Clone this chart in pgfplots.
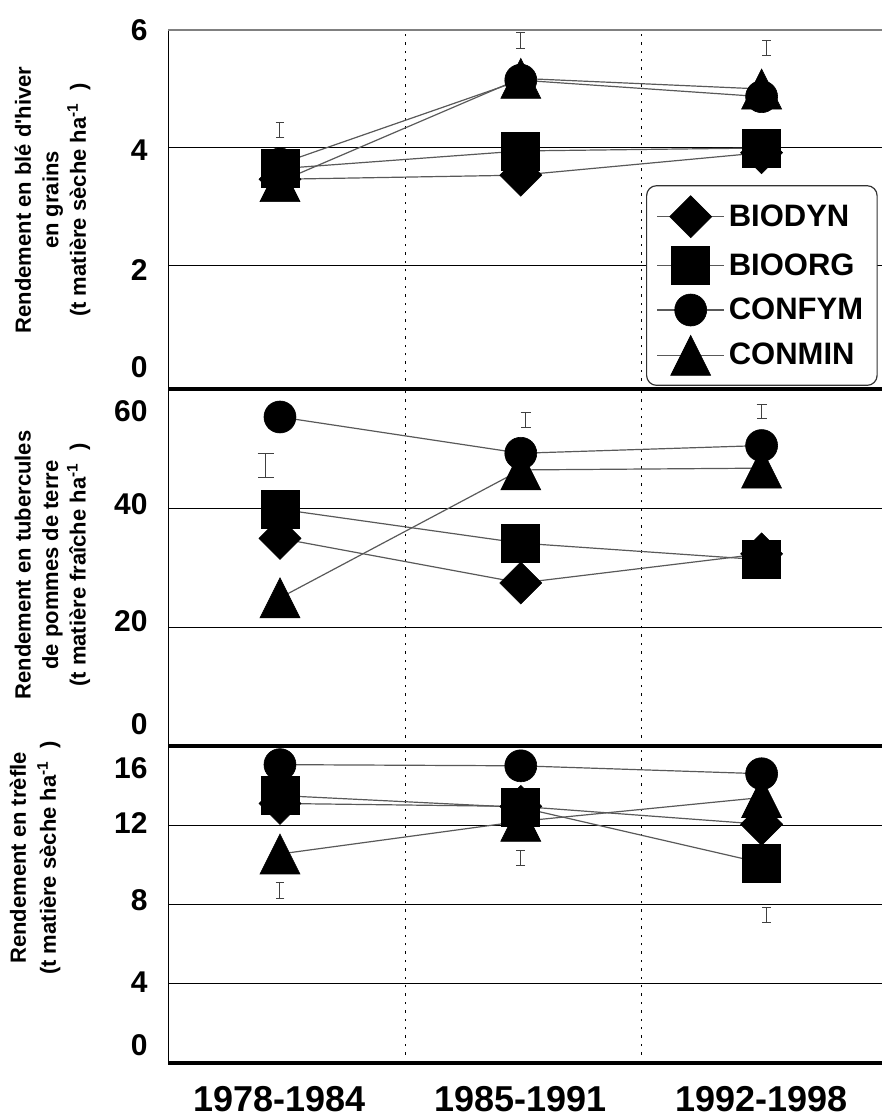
\documentclass[border=0pt]{standalone}
\usepackage{fontspec}
\setmainfont{Liberation Sans}
\usepackage{pgfplots}
\pgfplotsset{compat=1.18}

\pgfdeclareplotmark{mydiamond}{%
  \pgfpathmoveto{\pgfqpoint{0pt}{\pgfplotmarksize}}%
  \pgfpathlineto{\pgfqpoint{\pgfplotmarksize}{0pt}}%
  \pgfpathlineto{\pgfqpoint{0pt}{-\pgfplotmarksize}}%
  \pgfpathlineto{\pgfqpoint{-\pgfplotmarksize}{0pt}}%
  \pgfpathclose\pgfusepathqfillstroke}
\pgfdeclareplotmark{mytri}{%
  \pgfpathmoveto{\pgfqpoint{0pt}{\pgfplotmarksize}}%
  \pgfpathlineto{\pgfqpoint{\pgfplotmarksize}{-\pgfplotmarksize}}%
  \pgfpathlineto{\pgfqpoint{-\pgfplotmarksize}{-\pgfplotmarksize}}%
  \pgfpathclose\pgfusepathqfillstroke}

\pgfplotsset{
  ser/.style={black!65, line width=0.6pt, sharp corners, mark options={solid, fill=black, draw=black, line width=0.3pt, sharp corners}},
  sdyn/.style={ser, mark=mydiamond, mark size=10.5pt},
  sorg/.style={ser, mark=square*, mark size=9.5pt},
  sfym/.style={ser, mark=*, mark size=8pt},
  smin/.style={ser, mark=mytri, mark size=10pt},
  ebar/.style={forget plot, draw=none, mark=none,
    error bars/.cd, y dir=both, y explicit,
    error bar style={draw=black!75, line width=0.5pt},
    error mark options={rotate=90, draw=black!75, line width=0.5pt, mark size=#1}},
  panel/.style={
    width=357pt, scale only axis, xmin=-0.465, xmax=2.5, clip=false,
    axis x line*=bottom, axis y line*=left,
    x axis line style={line width=2pt, -},
    y axis line style={line width=0.5pt, -},
    tick style={draw=none}, major tick length=0pt,
    xtick={0,1,2}, xticklabels={},
    extra x ticks={0.52,1.5}, extra x tick labels={},
    extra x tick style={grid=major, major grid style={black, line width=0.5pt, dash pattern=on 1.2pt off 3pt}},
    extra y tick style={grid=major, major grid style={black, line width=0.5pt}},
    extra y tick labels={},
    yticklabel style={font=\fontsize{15}{15}\selectfont\bfseries, inner sep=0pt, anchor=east, xshift=-10pt},
    xticklabel style={font=\fontsize{18}{18}\selectfont\bfseries, inner sep=0pt, anchor=north, yshift=-11.5pt},
  },
}

\begin{document}
\begin{tikzpicture}
\path[use as bounding box] (0,0) rectangle (441pt,-559pt);

% ---- Top panel: wheat
\begin{axis}[panel, at={(84pt,-194.5pt)}, anchor=south west, height=179.5pt,
  ymin=-0.085, ymax=6,
  ytick={0.29,1.93,3.97,6}, yticklabels={0,2,4,6},
  extra y ticks={2,4},
  legend style={at={(0.994,0.568)}, anchor=north east, draw=black!80, line width=0.6pt,
    rounded corners=5pt, fill=white, font=\fontsize{15.5}{15.5}\selectfont\bfseries,
    row sep=4.5pt, inner xsep=5pt, inner ysep=5pt, nodes={inner xsep=2pt}},
  legend cell align=left,
  legend image code/.code={\draw[mark repeat=2, mark phase=2, #1] plot coordinates {(0pt,0pt) (16.75pt,0pt) (33.5pt,0pt)};},
]
\draw[black!50, line width=0.6pt] (rel axis cs:0,1) -- (rel axis cs:1,1);
\addplot[sdyn] coordinates {(0,3.47) (1,3.54) (2,3.92)};
\addplot[sorg] coordinates {(0,3.65) (1,3.95) (2,4.0)};
\addplot[sfym] coordinates {(0,3.73) (1,5.15) (2,4.87)};
\addplot[smin] coordinates {(0,3.43) (1,5.18) (2,5.0)};
\addplot[ebar=2.2pt] coordinates {(0,4.30) +- (0,0.13) (1,5.82) +- (0,0.13) (2.02,5.70) +- (0,0.13)};
\legend{BIODYN,BIOORG,CONFYM,CONMIN}
\end{axis}

% ---- Middle panel: potatoes
\begin{axis}[panel, at={(84pt,-373pt)}, anchor=south west, height=178.5pt,
  ymin=0, ymax=60,
  ytick={3.7,21.0,40.7,56.3}, yticklabels={0,20,40,60},
  extra y ticks={20,40},
]
\addplot[sdyn] coordinates {(0,34.9) (1,27.4) (2,32.3)};
\addplot[sorg] coordinates {(0,39.8) (1,34.1) (2,31.3)};
\addplot[sfym] coordinates {(0,55.3) (1,49.2) (2,50.5)};
\addplot[smin] coordinates {(0,24.9) (1,46.4) (2,46.7)};
\addplot[ebar=4pt] coordinates {(-0.06,47.1) +- (0,2.0)};
\addplot[ebar=2.5pt] coordinates {(1.02,54.8) +- (0,1.2) (2.0,56.2) +- (0,1.2)};
\end{axis}

% ---- Bottom panel: clover
\begin{axis}[panel, at={(84pt,-531.5pt)}, anchor=south west, height=158.5pt,
  ymin=0, ymax=16,
  ytick={0.9,4.1,8.2,12.1,14.9}, yticklabels={0,4,8,12,16},
  extra y ticks={4,8,12},
  xticklabels={1978-1984,1985-1991,1992-1998},
]
\addplot[sdyn] coordinates {(0,13.1) (1,12.95) (2,12.05)};
\addplot[sorg] coordinates {(0,13.5) (1,12.9) (2,10.1)};
\addplot[sfym] coordinates {(0,15.06) (1,15.0) (2,14.6)};
\addplot[smin] coordinates {(0,10.55) (1,12.2) (2,13.4)};
\addplot[ebar=2.2pt] coordinates {(0,8.7) +- (0,0.4) (1,10.35) +- (0,0.38) (2.02,7.45) +- (0,0.38)};
\end{axis}

% ---- y labels
\node[rotate=90, align=center, font=\fontsize{11}{13.75}\selectfont\bfseries] at (26.25pt,-100pt)
  {Rendement en blé d\textquotesingle hiver\\en grains\\(t matière sèche ha\textsuperscript{-1}\ \ )};
\node[rotate=90, align=center, font=\fontsize{11}{13.75}\selectfont\bfseries] at (26.25pt,-282.5pt)
  {Rendement en tubercules\\de pommes de terre\\(t matière fraîche ha\textsuperscript{-1}\ \ )};
\node[rotate=90, align=center, font=\fontsize{11}{15}\selectfont\bfseries] at (17.5pt,-429pt)
  {Rendement en trèfle\\(t matière sèche ha\textsuperscript{-1}\ \ )};
\end{tikzpicture}
\end{document}
